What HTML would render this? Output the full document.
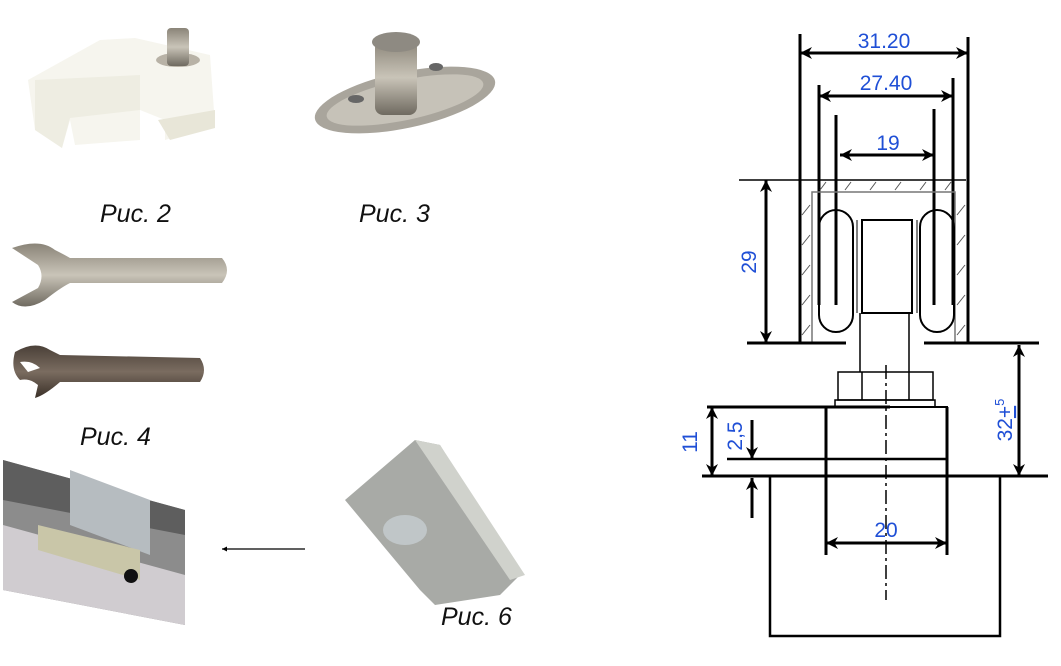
<!DOCTYPE html><html><head><meta charset="utf-8"><style>
html,body{margin:0;padding:0;background:#fff;width:1061px;height:666px;overflow:hidden}
svg{display:block}
.cap{font-family:"Liberation Sans",sans-serif;font-style:italic;font-size:25px;fill:#111}
.d{font-family:"Liberation Sans",sans-serif;font-size:21px;fill:#1f4fd6}
</style></head><body>
<svg width="1061" height="666" viewBox="0 0 1061 666" xmlns="http://www.w3.org/2000/svg">
<defs>
<marker id="a" viewBox="0 0 10 10" refX="10" refY="5" markerWidth="6" markerHeight="5" orient="auto-start-reverse" markerUnits="userSpaceOnUse"><path d="M0,0 L10,5 L0,10 Z" fill="#000"/></marker>
<marker id="A" viewBox="0 0 10 10" refX="10" refY="5" markerWidth="20" markerHeight="12" orient="auto-start-reverse" markerUnits="userSpaceOnUse"><path d="M0,0 L10,5 L0,10 L3,5 Z" fill="#000"/></marker>
<linearGradient id="m" x1="0" y1="0" x2="0" y2="1"><stop offset="0" stop-color="#8a8478"/><stop offset=".5" stop-color="#c9c4b8"/><stop offset="1" stop-color="#6f6a60"/></linearGradient>
<linearGradient id="w2" x1="0" y1="0" x2="0" y2="1"><stop offset="0" stop-color="#4a4038"/><stop offset=".5" stop-color="#7a6c60"/><stop offset="1" stop-color="#3a3028"/></linearGradient>
</defs>
<path d="M100,40 L135,38 L210,55 L215,125 L165,140 L165,120 L140,110 L140,140 L75,145 L70,120 L62,148 L35,130 L28,80 Z" fill="#f6f5ee"/>
<path d="M35,80 L140,75 L140,110 L70,118 L62,148 L35,130 Z" fill="#eeede2"/>
<path d="M158,120 L215,110 L215,128 L170,140 Z" fill="#e8e6d8"/>
<ellipse cx="178" cy="60" rx="22" ry="7" fill="#b8b2a6"/>
<rect x="167" y="28" width="22" height="38" rx="4" fill="url(#m)"/>
<ellipse cx="405" cy="100" rx="92" ry="28" fill="#a9a59c" transform="rotate(-12 405 100)"/>
<ellipse cx="405" cy="100" rx="80" ry="20" fill="#c6c2b8" transform="rotate(-12 405 100)"/>
<rect x="375" y="40" width="42" height="75" rx="8" fill="url(#m)"/>
<ellipse cx="396" cy="42" rx="24" ry="10" fill="#8e8a82"/>
<ellipse cx="356" cy="99" rx="8" ry="4" fill="#666"/><ellipse cx="436" cy="67" rx="7" ry="4" fill="#666"/>
<path d="M12,248 Q40,238 55,250 Q65,255 70,258 L222,258 Q232,270 222,283 L70,283 Q60,288 45,300 Q25,312 12,302 L38,288 Q45,276 38,265 Z" fill="url(#m)"/>
<path d="M15,352 Q35,340 50,350 L60,355 L200,358 Q208,370 200,382 L60,382 Q45,395 35,398 L38,385 Q30,378 20,380 Q10,370 15,352 Z" fill="url(#w2)"/>
<path d="M20,362 Q32,360 40,368 L28,372 Z" fill="#fff"/>
<polygon points="3,460 185,510 185,625 3,590" fill="#8c8c8c"/>
<polygon points="3,525 185,575 185,625 3,590" fill="#d0ccd0"/>
<polygon points="3,460 185,510 185,535 3,500" fill="#5e5e5e"/>
<polygon points="70,470 150,500 150,555 70,525" fill="#b6bcc0"/>
<polygon points="38,525 140,550 140,580 38,550" fill="#c9c6a8"/>
<circle cx="131" cy="576" r="7" fill="#111"/>
<line x1="305" y1="549" x2="222" y2="549" stroke="#000" stroke-width="1.2" marker-end="url(#a)"/>
<polygon points="345,500 415,440 440,445 520,575 500,595 435,605 420,590" fill="#a8aaa6"/>
<polygon points="415,440 440,445 525,575 510,580" fill="#d0d2cc"/>
<ellipse cx="405" cy="530" rx="22" ry="15" fill="#c0c6c8"/>
<text class="cap" x="100" y="222">Рис. 2</text>
<text class="cap" x="359" y="222">Рис. 3</text>
<text class="cap" x="80" y="445">Рис. 4</text>
<text class="cap" x="441" y="625">Рис. 6</text>

<g stroke="#000" fill="none">
<line x1="800" y1="34" x2="800" y2="343" stroke-width="3"/>
<line x1="968" y1="37" x2="968" y2="343" stroke-width="3"/>
<line x1="819" y1="85" x2="819" y2="305" stroke-width="3"/>
<line x1="953" y1="78" x2="953" y2="305" stroke-width="3"/>
<line x1="836" y1="115" x2="836" y2="305" stroke-width="3"/>
<line x1="934" y1="109" x2="934" y2="305" stroke-width="3"/>
<line x1="800" y1="53" x2="968" y2="53" stroke-width="3" marker-start="url(#A)" marker-end="url(#A)"/>
<line x1="819" y1="96" x2="953" y2="96" stroke-width="3" marker-start="url(#A)" marker-end="url(#A)"/>
<line x1="840" y1="155" x2="934" y2="155" stroke-width="3" marker-start="url(#A)" marker-end="url(#A)"/>
<line x1="739" y1="180" x2="966" y2="180" stroke-width="1.5"/>
<path d="M812,343 L812,192 L955,192 L955,343" stroke="#777" stroke-width="1.5"/>
<g stroke="#555" stroke-width="1">
<line x1="820" y1="190" x2="826" y2="182"/><line x1="845" y1="190" x2="851" y2="182"/><line x1="870" y1="190" x2="876" y2="182"/><line x1="895" y1="190" x2="901" y2="182"/><line x1="920" y1="190" x2="926" y2="182"/><line x1="945" y1="190" x2="951" y2="182"/>
<line x1="802" y1="215" x2="810" y2="205"/><line x1="802" y1="245" x2="810" y2="235"/><line x1="802" y1="275" x2="810" y2="265"/><line x1="802" y1="305" x2="810" y2="295"/><line x1="802" y1="335" x2="810" y2="325"/>
<line x1="957" y1="215" x2="965" y2="205"/><line x1="957" y1="245" x2="965" y2="235"/><line x1="957" y1="275" x2="965" y2="265"/><line x1="957" y1="305" x2="965" y2="295"/><line x1="957" y1="335" x2="965" y2="325"/>
</g>
<line x1="747" y1="343" x2="846" y2="343" stroke-width="3"/>
<line x1="924" y1="343" x2="1039" y2="343" stroke-width="3"/>
<rect x="819" y="210" width="34" height="122" rx="17" stroke-width="2"/>
<rect x="920" y="210" width="34" height="122" rx="17" stroke-width="2"/>
<rect x="862" y="220" width="50" height="93" stroke-width="2"/>
<line x1="857" y1="220" x2="857" y2="313" stroke-width="1"/><line x1="917" y1="220" x2="917" y2="313" stroke-width="1"/>
<line x1="860" y1="313" x2="860" y2="372" stroke-width="1.5"/><line x1="909" y1="313" x2="909" y2="372" stroke-width="1.5"/>
<rect x="838" y="372" width="95" height="28" stroke-width="1.5"/>
<line x1="862" y1="372" x2="862" y2="400" stroke-width="1.5"/><line x1="909" y1="372" x2="909" y2="400" stroke-width="1.5"/>
<rect x="835" y="400" width="100" height="7" stroke-width="1.5"/>
<line x1="886" y1="365" x2="886" y2="600" stroke-width="1.5" stroke-dasharray="14,4,3,4"/>
<line x1="707" y1="407" x2="890" y2="407" stroke-width="3"/>
<rect x="826" y="407" width="121" height="69" stroke-width="2"/>
<line x1="826" y1="407" x2="826" y2="555" stroke-width="3"/><line x1="947" y1="407" x2="947" y2="555" stroke-width="3"/>
<line x1="727" y1="459" x2="947" y2="459" stroke-width="2.5"/>
<line x1="702" y1="476" x2="1048" y2="476" stroke-width="3"/>
<path d="M770,476 L770,636 L1000,636 L1000,476" stroke-width="2.5"/>
<line x1="826" y1="543" x2="947" y2="543" stroke-width="3" marker-start="url(#A)" marker-end="url(#A)"/>
<line x1="766" y1="180" x2="766" y2="343" stroke-width="3" marker-start="url(#A)" marker-end="url(#A)"/>
<line x1="1019" y1="345" x2="1019" y2="476" stroke-width="3" marker-start="url(#A)" marker-end="url(#A)"/>
<line x1="712" y1="407" x2="712" y2="476" stroke-width="3" marker-start="url(#A)" marker-end="url(#A)"/>
<line x1="752" y1="420" x2="752" y2="459" stroke-width="3" marker-end="url(#A)"/>
<line x1="752" y1="518" x2="752" y2="478" stroke-width="3" marker-end="url(#A)"/>
</g>
<text class="d" x="884" y="48" text-anchor="middle" font-size="22">31.20</text>
<text class="d" x="886" y="90" text-anchor="middle" font-size="22">27.40</text>
<text class="d" x="888" y="150" text-anchor="middle" font-size="22">19</text>
<text class="d" x="886" y="537" text-anchor="middle" font-size="22">20</text>
<text class="d" transform="translate(756,262) rotate(-90)" text-anchor="middle">29</text>
<text class="d" transform="translate(697,442) rotate(-90)" text-anchor="middle">11</text>
<text class="d" transform="translate(742,436) rotate(-90)" text-anchor="middle">2,5</text>
<text class="d" transform="translate(1012,420) rotate(-90)" text-anchor="middle">32<tspan text-decoration="underline">+</tspan><tspan font-size="13" dy="-8">5</tspan></text>
</svg>
</body></html>
